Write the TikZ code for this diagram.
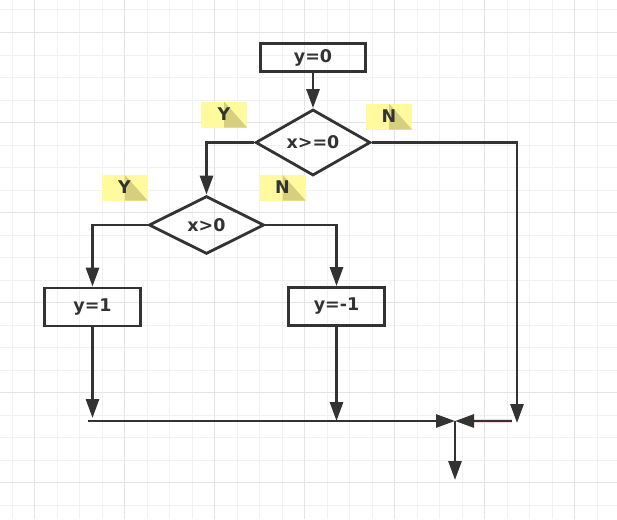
\documentclass[tikz,border=0pt]{standalone}
\usepackage{fontspec}
\setmainfont{DejaVu Sans}
\usetikzlibrary{shapes.geometric,arrows.meta}
\definecolor{ink}{HTML}{333333}
\definecolor{gridminor}{HTML}{F1F1F1}
\definecolor{gridmajor}{HTML}{E4E4E4}
\definecolor{tagfill}{HTML}{FFFA9E}
\definecolor{tagfold}{HTML}{D6D07E}
\definecolor{halo}{HTML}{F6D6D6}

\begin{document}
\begin{tikzpicture}[x=1pt,y=1pt,
	flow/.style={draw=ink,line width=2.8pt,-{Triangle[length=19pt,width=13pt]}},
	box/.style={draw=ink,line width=2.8pt,rectangle,minimum width=96pt,minimum height=38pt,inner sep=0pt,text=ink,font=\fontsize{17.5}{20}\selectfont\bfseries},
	test/.style={box,diamond,minimum width=115pt,minimum height=58pt},
	tag/.style={fill=tagfill,minimum width=46pt,minimum height=26pt,inner sep=0pt,text=ink,font=\fontsize{17.5}{20}\selectfont\bfseries,
		path picture={\fill[tagfold] (path picture bounding box.north) -- (path picture bounding box.south east) -- (path picture bounding box.south) -- cycle;}}]
	\useasboundingbox (0,0) rectangle (617,-519);
	\fill[white] (0,0) rectangle (617,-519);
	\foreach \i in {0,...,26} \draw[gridminor,line width=1pt] ({12+22.5*\i},0) -- ({12+22.5*\i},-519);
	\foreach \i in {0,...,22} \draw[gridminor,line width=1pt] (0,{-10-22.5*\i}) -- (617,{-10-22.5*\i});
	\foreach \i in {0,...,6} \draw[gridmajor,line width=1pt] ({34.5+90*\i},0) -- ({34.5+90*\i},-519);
	\foreach \i in {0,...,5} \draw[gridmajor,line width=1pt] (0,{-32.5-90*\i}) -- (617,{-32.5-90*\i});

	\node[box,minimum width=105pt,minimum height=28pt] (start) at (313,-57.5) {y=0};
	\node[test] (geq) at (313,-142.5) {x>=0};
	\node[test] (gtz) at (206.5,-225) {x>0};
	\node[box] (pos) at (92.5,-307) {y=1};
	\node[box] (neg) at (336.5,-306.5) {y=-1};

	\node[tag] (yes1) at (224,-114.5) {Y};
	\node[tag] (no1) at (389,-116.5) {N};
	\node[tag] (yes2) at (124.5,-187.5) {Y};
	\node[tag] (no2) at (282.5,-187.5) {N};

	\coordinate (posend) at (93,-418);
	\coordinate (negend) at (337,-421);
	\coordinate (farend) at (517,-423);
	\coordinate (busl) at (88,-421);
	\coordinate (busr) at (512,-421);
	\coordinate (join) at (455,-421);
	\coordinate (exit) at (455,-480);

	\draw[flow] (start.south) -- (geq.north);
	\draw[flow] (geq.west) -| (gtz.north);
	\draw[flow] (geq.east) -| (farend);
	\draw[flow] (gtz.west) -| (pos.north);
	\draw[flow] (gtz.east) -| (neg.north);
	\draw[flow] (pos.south) -- (pos.south |- posend);
	\draw[flow] (neg.south) -- (neg.south |- negend);
	\draw[flow] (busl) -- (join);
	\draw[halo,line width=4.6pt,shorten >=19pt] (busr) -- (join);
	\draw[flow] (busr) -- (join);
	\draw[flow] (join) -- (exit);
\end{tikzpicture}
\end{document}
